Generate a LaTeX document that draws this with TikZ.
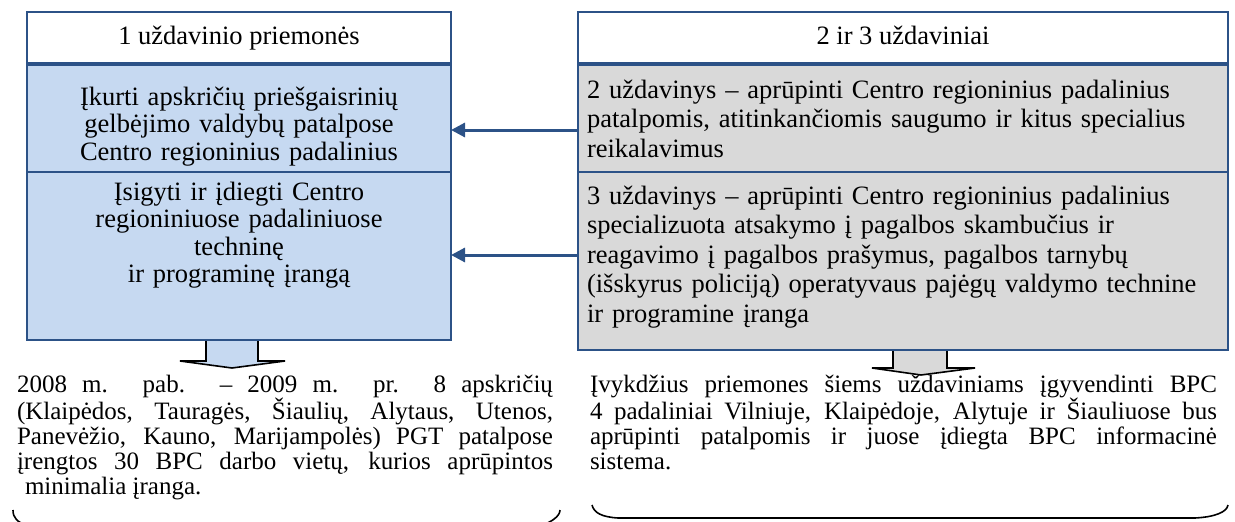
\documentclass[tikz,border=0pt]{standalone}
\usepackage{fontspec}
\setmainfont{Liberation Serif}
\usetikzlibrary{arrows.meta}
\definecolor{bblue}{RGB}{44,82,135}
\definecolor{lblue}{RGB}{198,217,241}
\definecolor{lgrey}{RGB}{217,217,217}
\tikzset{
  box/.style={draw=bblue, line width=2.5pt, inner sep=0pt, outer sep=0pt},
  txt/.style={font=\fontsize{26.5}{29.5}\selectfont, inner sep=0pt, outer sep=0pt},
  ltxt/.style={font=\fontsize{26.5}{27.5}\selectfont, inner sep=0pt, outer sep=0pt},
  btxt/.style={font=\fontsize{25}{25}\selectfont, inner sep=0pt, outer sep=0pt},
  conn/.style={draw=bblue, line width=3pt, -{Triangle[length=14pt,width=14pt]}},
  barrow/.style={draw=black, line width=1.6pt, line join=miter},
  brace/.style={draw=black, line width=1.6pt},
}
\begin{document}
\begin{tikzpicture}[x=1pt,y=-1pt]
\useasboundingbox (0,0) rectangle (1235,522);
% left column
\node[box, fill=white, minimum width=424pt, minimum height=51pt] (t1) at (239,37.5) {};
\node[txt, anchor=base] (t1t) at (239,45) {1 uždavinio priemonės};
\node[box, fill=lblue, minimum width=424pt, minimum height=107pt] (b1) at (239,118.5) {};
\node[ltxt, text width=420pt, align=center, anchor=base] (b1t) at (239,105) {Įkurti apskričių priešgaisrinių\\gelbėjimo valdybų patalpose\\Centro regioninius padalinius};
\node[box, fill=lblue, minimum width=424pt, minimum height=168pt] (b2) at (239,256) {};
\node[ltxt, text width=420pt, align=center, anchor=base] (b2t) at (239,200) {Įsigyti ir įdiegti Centro\\regioniniuose padaliniuose\\techninę\\ir programinę įrangą};
% right column
\node[box, fill=white, minimum width=650pt, minimum height=51pt] (t2) at (903,37.5) {};
\node[txt, anchor=base] (t2t) at (903,45) {2 ir 3 uždaviniai};
\node[box, fill=lgrey, minimum width=650pt, minimum height=107pt] (g1) at (903,118.5) {};
\node[txt, text width=635pt, align=left, anchor=base west] (g1t) at (587,98) {2 uždavinys – aprūpinti Centro regioninius padalinius\\patalpomis, atitinkančiomis saugumo ir kitus specialius\\reikalavimus};
\node[box, fill=lgrey, minimum width=650pt, minimum height=178pt] (g2) at (903,261) {};
\node[txt, text width=635pt, align=left, anchor=base west] (g2t) at (587,204) {3 uždavinys – aprūpinti Centro regioninius padalinius\\specializuota atsakymo į pagalbos skambučius ir\\reagavimo į pagalbos prašymus, pagalbos tarnybų\\(išskyrus policiją) operatyvaus pajėgų valdymo technine\\ir programine įranga};
% connectors
\draw[conn] ([yshift=-11.5pt]g1.west) -- ([yshift=-11.5pt]b1.east);
\draw[conn] ([yshift=6pt]g2.west) -- ([yshift=1pt]b2.east);
% block arrows
\filldraw[barrow, fill=lblue] (206,341) -- (206,361) -- (180,361) -- (232,368) -- (285,361) -- (258,361) -- (258,341);
\filldraw[barrow, fill=lgrey] (893,351) -- (893,368) -- (872,368) -- (921,375) -- (975,368) -- (947,368) -- (947,351);
% bottom texts
\node[btxt, text width=536pt, align=justify, anchor=base west] (lt) at (17,392) {2008 m. pab. – 2009 m. pr. 8 apskričių\linebreak (Klaipėdos, Tauragės, Šiaulių, Alytaus, Utenos,\linebreak Panevėžio, Kauno, Marijampolės) PGT patalpose\linebreak įrengtos 30 BPC darbo vietų, kurios aprūpintos\linebreak \hspace*{8pt}minimalia įranga.};
\node[btxt, text width=627pt, align=justify, anchor=base west] (rt) at (590,392) {Įvykdžius priemones šiems uždaviniams įgyvendinti BPC\linebreak 4 padaliniai Vilniuje, Klaipėdoje, Alytuje ir Šiauliuose bus\linebreak aprūpinti patalpomis ir juose įdiegta BPC informacinė\linebreak sistema.};
% braces
\draw[brace] (13,510) .. controls (13,518) and (17,522) .. (28,526) -- (540,526) .. controls (552,522) and (560,516) .. (560,510);
\draw[brace] (592,505) .. controls (594,513) and (602,517) .. (618,518) -- (1195,518) .. controls (1215,517) and (1227,512) .. (1228,505);
\end{tikzpicture}
\end{document}
